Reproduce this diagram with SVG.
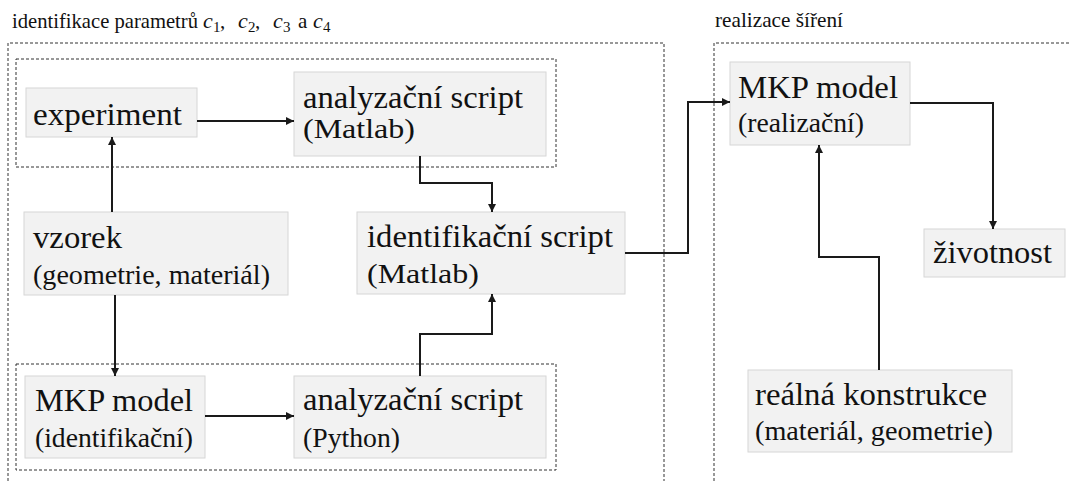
<svg xmlns="http://www.w3.org/2000/svg" width="1069" height="481" viewBox="0 0 1069 481" font-family="Liberation Serif, Times New Roman, serif">
<style>
.dash{fill:none;stroke:#333;stroke-width:1;stroke-dasharray:3 2}
.box{fill:#f2f2f2;stroke:#d6d6d6;stroke-width:1}
text{fill:#111}
.t1{font-size:32px}
.t2{font-size:27.5px}
.lbl{font-size:21px}
.m{font-style:italic;font-size:22px}
.sub{font-size:15px}
.con{fill:none;stroke:#1a1a1a;stroke-width:2}
</style>
<defs>
<marker id="ah" viewBox="0 0 10 10" refX="10" refY="5" markerWidth="4" markerHeight="4" orient="auto" markerUnits="strokeWidth">
<path d="M0,0 L10,5 L0,10 z" fill="#1a1a1a"/>
</marker>
</defs>
<g id="frames">
<path class="dash" d="M8,481 V43 H664 V481"/>
<path class="dash" d="M714,481 V43 H1069"/>
<rect class="dash" x="16" y="59" width="540" height="108"/>
<rect class="dash" x="16" y="364" width="540" height="106"/>
<text class="lbl" x="12" y="28" textLength="186" lengthAdjust="spacingAndGlyphs">identifikace parametrů</text>
<text class="lbl" x="203" y="28"><tspan class="m" x="203">c</tspan><tspan class="sub" x="213" dy="4">1</tspan><tspan x="220" dy="-4">,</tspan><tspan class="m" x="238">c</tspan><tspan class="sub" x="248" dy="4">2</tspan><tspan x="255" dy="-4">,</tspan><tspan class="m" x="273">c</tspan><tspan class="sub" x="283" dy="4">3</tspan><tspan x="298" dy="-4">a</tspan><tspan class="m" x="313">c</tspan><tspan class="sub" x="323" dy="4">4</tspan></text>
<text class="lbl" x="715" y="27" textLength="128" lengthAdjust="spacingAndGlyphs">realizace šíření</text>
</g>
<g id="experiment">
<rect class="box" x="26" y="88" width="171" height="49"/>
<text class="t1" x="33" y="125" textLength="149" lengthAdjust="spacingAndGlyphs">experiment</text>
</g>
<g id="analyza-matlab">
<rect class="box" x="294" y="72" width="252" height="84"/>
<text class="t1" x="303" y="108" textLength="220" lengthAdjust="spacingAndGlyphs">analyzační script</text>
<text class="t2" x="303" y="138" textLength="112" lengthAdjust="spacingAndGlyphs">(Matlab)</text>
</g>
<g id="vzorek">
<rect class="box" x="24" y="212" width="264" height="83"/>
<text class="t1" x="33" y="248" textLength="89" lengthAdjust="spacingAndGlyphs">vzorek</text>
<text class="t2" x="33" y="284" textLength="237" lengthAdjust="spacingAndGlyphs">(geometrie, materiál)</text>
</g>
<g id="identifikace">
<rect class="box" x="357" y="212" width="268" height="82"/>
<text class="t1" x="367" y="247" textLength="246" lengthAdjust="spacingAndGlyphs">identifikační script</text>
<text class="t2" x="367" y="283" textLength="112" lengthAdjust="spacingAndGlyphs">(Matlab)</text>
</g>
<g id="mkp-ident">
<rect class="box" x="25" y="376" width="180" height="82"/>
<text class="t1" x="35" y="411" textLength="158" lengthAdjust="spacingAndGlyphs">MKP model</text>
<text class="t2" x="35" y="447" textLength="158" lengthAdjust="spacingAndGlyphs">(identifikační)</text>
</g>
<g id="analyza-python">
<rect class="box" x="294" y="376" width="252" height="82"/>
<text class="t1" x="303" y="410" textLength="220" lengthAdjust="spacingAndGlyphs">analyzační script</text>
<text class="t2" x="303" y="447" textLength="97" lengthAdjust="spacingAndGlyphs">(Python)</text>
</g>
<g id="mkp-real">
<rect class="box" x="730" y="62" width="180" height="83"/>
<text class="t1" x="738" y="98" textLength="160" lengthAdjust="spacingAndGlyphs">MKP model</text>
<text class="t2" x="738" y="132" textLength="126" lengthAdjust="spacingAndGlyphs">(realizační)</text>
</g>
<g id="zivotnost">
<rect class="box" x="924" y="229" width="141" height="48"/>
<text class="t1" x="933" y="263" textLength="119" lengthAdjust="spacingAndGlyphs">životnost</text>
</g>
<g id="konstrukce">
<rect class="box" x="748" y="370" width="264" height="82"/>
<text class="t1" x="755" y="405" textLength="232" lengthAdjust="spacingAndGlyphs">reálná konstrukce</text>
<text class="t2" x="755" y="440" textLength="238" lengthAdjust="spacingAndGlyphs">(materiál, geometrie)</text>
</g>
<g id="connectors">
<path class="con" marker-end="url(#ah)" d="M197,121 H294"/>
<path class="con" marker-end="url(#ah)" d="M112,212 V137"/>
<path class="con" marker-end="url(#ah)" d="M115,295 V376"/>
<path class="con" marker-end="url(#ah)" d="M205,416 H294"/>
<path class="con" marker-end="url(#ah)" d="M420,156 V183 H492 V212"/>
<path class="con" marker-end="url(#ah)" d="M420,376 V334 H492 V294"/>
<path class="con" marker-end="url(#ah)" d="M625,253 H688 V102 H730"/>
<path class="con" marker-end="url(#ah)" d="M910,103 H993 V229"/>
<path class="con" marker-end="url(#ah)" d="M879,370 V257 H819 V145"/>
</g>
</svg>
